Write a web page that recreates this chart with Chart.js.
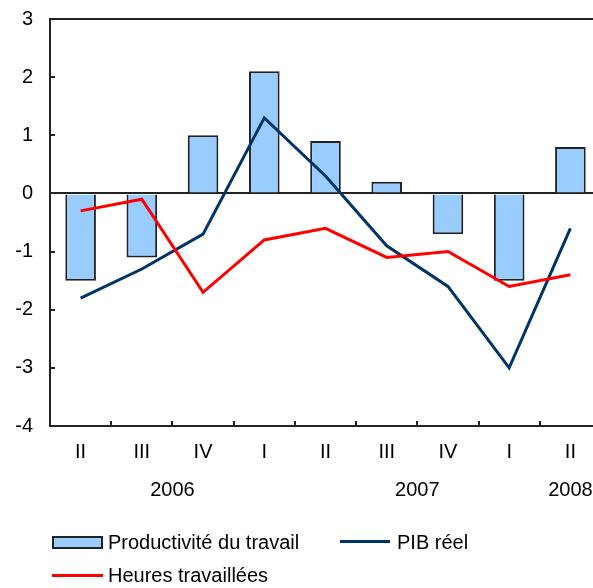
<!DOCTYPE html>
<html lang="fr">
<head>
<meta charset="UTF-8">
<title>Productivité du travail, PIB réel et heures travaillées</title>
<script src="https://cdn.jsdelivr.net/npm/chart.js"></script>
<style>
    body {
        margin: 0;
        background: #fff;
        overflow: hidden;
        font-family: "Liberation Sans", Arial, sans-serif;
    }
    .wrap {
        position: relative;
        width: 593px;
        height: 588px;
        overflow: hidden;
    }
    #chart {
        position: absolute;
        left: 0;
        top: -10px;
    }
    .leg {
        position: absolute;
        font-size: 20px;
        line-height: 24px;
        color: #000;
        white-space: nowrap;
    }
    .sw {
        position: absolute;
    }
</style>
</head>
<body>
<div class="wrap">
    <canvas id="chart" width="610" height="598"></canvas>

    <!-- legend -->
    <div class="sw" style="left:52px; top:536px; width:47px; height:9px; border:2px solid #222; background:#99ccff;"></div>
    <div class="leg" style="left:108px; top:530px;">Productivité du travail</div>
    <div class="sw" style="left:340px; top:540px; width:50px; height:3px; background:#003366;"></div>
    <div class="leg" style="left:397px; top:530px;">PIB réel</div>
    <div class="sw" style="left:52px; top:574px; width:51px; height:3px; background:#ff0000;"></div>
    <div class="leg" style="left:108px; top:563px;">Heures travaillées</div>
</div>

<script>
    // data
    const quarters = ['II', 'III', 'IV', 'I', 'II', 'III', 'IV', 'I', 'II'];
    const productivite = [-1.5, -1.1, 1.0, 2.1, 0.9, 0.2, -0.7, -1.5, 0.8];
    const pibReel = [-1.8, -1.3, -0.7, 1.3, 0.3, -0.9, -1.6, -3.0, -0.6];
    const heures = [-0.3, -0.1, -1.7, -0.8, -0.6, -1.1, -1.0, -1.6, -1.4];
    const years = ['2006', '2007', '2008'];
    const yearAt = [2, 6, 8.5];   // where the year label sits, counted in quarters from the left edge

    const font = { family: "'Liberation Sans', Arial, sans-serif", size: 20 };

    // small tick marks pointing into the plot
    const innerTicks = {
        id: 'innerTicks',
        afterDatasetsDraw(chart) {
            const { ctx, chartArea: a, scales: { x, y } } = chart;
            ctx.save();
            ctx.strokeStyle = '#222';
            ctx.lineWidth = 2;
            ctx.beginPath();
            y.ticks.forEach(t => {
                const py = Math.round(y.getPixelForValue(t.value));
                ctx.moveTo(a.left, py);
                ctx.lineTo(a.left + 5, py);
            });
            for (let i = 1; i < quarters.length; i++) {
                const px = Math.round(x.getPixelForValue(i - 0.5));
                ctx.moveTo(px, a.bottom);
                ctx.lineTo(px, a.bottom - 5);
            }
            ctx.stroke();
            ctx.restore();
        }
    };

    // second row of x labels: the years
    const yearRow = {
        id: 'yearRow',
        afterDraw(chart) {
            const { ctx, chartArea: a, scales: { x } } = chart;
            ctx.save();
            ctx.fillStyle = '#000';
            ctx.font = font.size + 'px ' + font.family;
            ctx.textAlign = 'center';
            ctx.textBaseline = 'middle';
            years.forEach((yr, i) => {
                ctx.fillText(yr, x.getPixelForValue(yearAt[i] - 0.5), a.bottom + 64);
            });
            ctx.restore();
        }
    };

    new Chart(document.getElementById('chart'), {
        type: 'bar',
        data: {
            labels: quarters,
            datasets: [
                {
                    type: 'line',
                    label: 'Heures travaillées',
                    data: heures,
                    borderColor: '#ff0000',
                    borderWidth: 3,
                    pointRadius: 0,
                    tension: 0,
                    order: 1
                },
                {
                    type: 'line',
                    label: 'PIB réel',
                    data: pibReel,
                    borderColor: '#003366',
                    borderWidth: 3,
                    pointRadius: 0,
                    tension: 0,
                    order: 2
                },
                {
                    label: 'Productivité du travail',
                    data: productivite,
                    backgroundColor: '#99ccff',
                    borderColor: '#222',
                    borderWidth: 2,
                    categoryPercentage: 1,
                    barPercentage: 0.5,
                    order: 3
                }
            ]
        },
        options: {
            responsive: false,
            animation: false,
            devicePixelRatio: 1,
            layout: { padding: { top: 8, right: 9, bottom: 82, left: 0 } },
            plugins: {
                legend: { display: false },
                tooltip: { enabled: false }
            },
            scales: {
                y: {
                    min: -4,
                    max: 3,
                    afterFit(s) { s.width = 50; },
                    border: { color: '#222', width: 2 },
                    grid: {
                        drawTicks: false,
                        tickLength: 0,
                        lineWidth: 2,
                        color: c => (c.tick.value === 0 || c.tick.value === 3) ? '#222' : 'rgba(0,0,0,0)'
                    },
                    ticks: { stepSize: 1, padding: 17, color: '#000', font: font }
                },
                x: {
                    afterFit(s) { s.height = 80; },
                    border: { color: '#222', width: 2 },
                    grid: { display: false, drawTicks: false, tickLength: 0 },
                    ticks: { padding: 14, color: '#000', font: font, maxRotation: 0, autoSkip: false }
                }
            }
        },
        plugins: [innerTicks, yearRow]
    });
</script>
</body>
</html>
